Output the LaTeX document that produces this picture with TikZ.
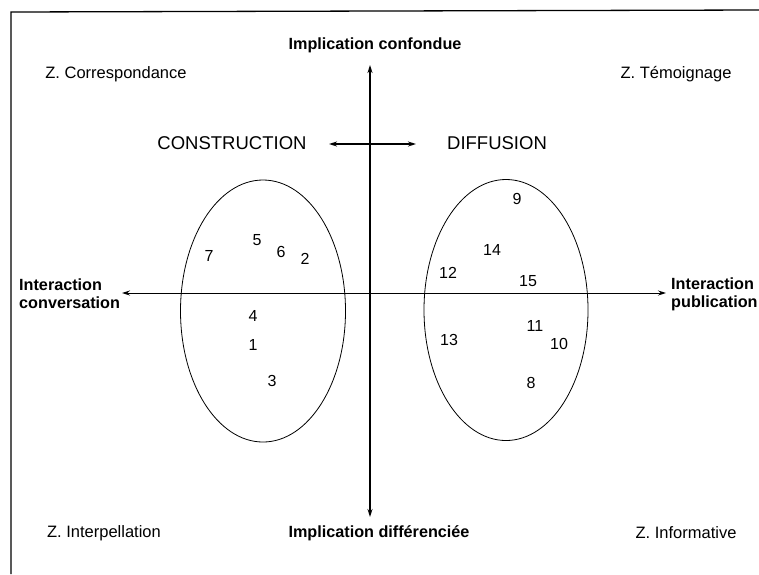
\documentclass[tikz,border=0pt]{standalone}
\usepackage{fontspec}
\setmainfont{Liberation Sans}
\usetikzlibrary{arrows.meta,shapes.geometric}
\begin{document}
\begin{tikzpicture}[x=1pt,y=-1pt,
  lbl/.style={font=\fontsize{16.5}{18}\selectfont, inner sep=0pt},
  blbl/.style={font=\fontsize{16.2}{18}\selectfont\bfseries, inner sep=0pt},
  num/.style={font=\fontsize{16}{18}\selectfont, inner sep=0pt},
  big/.style={font=\fontsize{18.5}{20}\selectfont, inner sep=0pt},
  tip/.tip={Stealth[length=8pt,width=5pt]},
  axis/.style={line width=1.3pt, tip-tip},
  zone/.style={draw, ellipse, line width=0.8pt, inner sep=0pt}
]
\useasboundingbox (0,0) rectangle (759,574);
% frame
\coordinate (fb) at (11,574);
\coordinate (ftl) at (11,12);
\coordinate (ftr) at (759,10);
\draw[line width=1.3pt] (fb) -- (ftl) -- (ftr);

% axes
\coordinate (vt) at (370,65);
\coordinate (vb) at (370,517);
\coordinate (hl) at (122,293);
\coordinate (hr) at (666,293);
\draw[axis] (vb) -- (vt);
\draw[line width=1pt, tip-tip] (hl) -- (hr);

% ellipses
\node[zone, minimum width=165pt, minimum height=262pt] (E1) at (263,311) {};
\node[zone, minimum width=164pt, minimum height=261pt] (E2) at (506,310) {};

% axis labels
\node[blbl] (topl) at (375,45) {Implication confondue};
\node[blbl] (botl) at (379,533) {Implication différenciée};
\node[blbl, anchor=west, align=left] (left) at (19,294) {Interaction\\conversation};
\node[blbl, anchor=west, align=left] (right) at (671,294) {Interaction\\publication};

% zones
\node[lbl] (zc) at (116,74) {Z. Correspondance};
\node[lbl] (zt) at (676,74) {Z. Témoignage};
\node[lbl] (zi) at (104,533) {Z. Interpellation};
\node[lbl] (zf) at (686,533) {Z. Informative};

% construction / diffusion
\node[big] (con) at (232,143) {CONSTRUCTION};
\node[big] (dif) at (497,143) {DIFFUSION};
\coordinate (al) at (329,144);
\coordinate (ar) at (416,144);
\draw[line width=1.3pt, tip-tip] (al) -- (ar);

% numbers left
\node[num] (n7) at (209,256) {7};
\node[num] (n5) at (257,240) {5};
\node[num] (n6) at (281,252) {6};
\node[num] (n2) at (305,259) {2};
\node[num] (n4) at (253,316) {4};
\node[num] (n1) at (253,345) {1};
\node[num] (n3) at (272,381) {3};
% numbers right
\node[num] (n9) at (517,199) {9};
\node[num] (n14) at (492,250) {14};
\node[num] (n12) at (448,273) {12};
\node[num] (n15) at (528,281) {15};
\node[num] (n13) at (449,340) {13};
\node[num] (n11) at (535,326) {11};
\node[num] (n10) at (559,344) {10};
\node[num] (n8) at (531,383) {8};
\end{tikzpicture}
\end{document}
